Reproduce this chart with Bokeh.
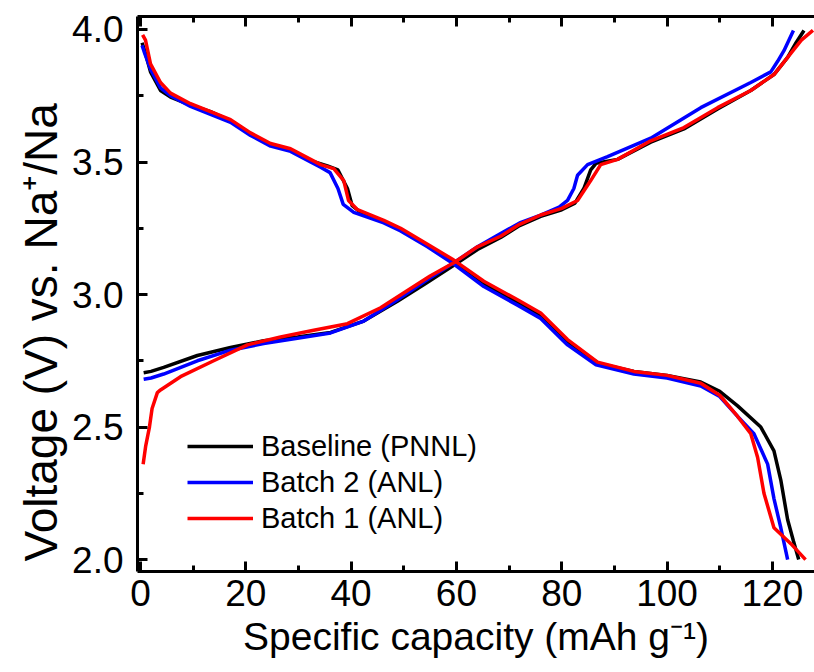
from bokeh.plotting import figure
from bokeh.models import Range1d, LinearAxis, Legend, LegendItem, SingleIntervalTicker, NumeralTickFormatter
from bokeh.embed import file_html
from bokeh.resources import INLINE

# ---- data ----
# Baseline (PNNL)
base_dis_x = [0.3, 0.8, 1.9, 3.8, 5.7, 9.5, 13.3, 17.1, 20.9, 24.7, 28.5, 32.3, 35.5, 37.5, 39.3, 40.2, 41.5,
              46.2, 49.4, 54.5, 59.5, 65.2, 71.6, 76.0, 81.1, 87.0, 93.7, 100.0, 106.4, 110.0, 113.4, 117.8,
              120.3, 121.6, 122.9, 124.0, 125.0]
base_dis_v = [3.95, 3.92, 3.84, 3.77, 3.745, 3.715, 3.69, 3.655, 3.605, 3.565, 3.545, 3.505, 3.485, 3.47, 3.40,
              3.335, 3.315, 3.275, 3.245, 3.185, 3.125, 3.04, 2.97, 2.92, 2.82, 2.74, 2.71, 2.695, 2.67, 2.635,
              2.58, 2.50, 2.41, 2.30, 2.15, 2.07, 2.00]
base_chg_x = [0.6, 2.0, 4.4, 10.8, 17.1, 23.4, 29.8, 36.1, 42.4, 48.8, 54.0, 59.5, 64.0, 68.4, 72.0, 76.0, 80.0,
              82.5, 84.2, 85.5, 86.5, 90.6, 96.9, 103.2, 109.6, 115.9, 120.3, 122.9, 124.5, 126.0]
base_chg_v = [2.705, 2.71, 2.725, 2.77, 2.80, 2.826, 2.84, 2.857, 2.90, 2.975, 3.04, 3.11, 3.17, 3.215, 3.26,
              3.295, 3.32, 3.345, 3.40, 3.47, 3.495, 3.51, 3.575, 3.625, 3.70, 3.77, 3.83, 3.895, 3.95, 3.996]

# Batch 2 (ANL)
b2_dis_x = [0.3, 0.8, 1.9, 3.8, 5.7, 9.5, 13.3, 17.1, 20.9, 24.7, 28.5, 32.3, 34.2, 36.0, 37.5, 38.5, 40.5,
            46.2, 49.4, 54.5, 59.5, 65.2, 71.6, 76.0, 81.1, 86.5, 93.7, 100.0, 106.4, 110.0, 113.4, 116.5,
            119.1, 120.3, 121.6, 122.9]
b2_dis_v = [3.94, 3.91, 3.85, 3.78, 3.75, 3.71, 3.68, 3.65, 3.60, 3.56, 3.54, 3.50, 3.48, 3.46, 3.40, 3.34,
            3.31, 3.27, 3.24, 3.18, 3.115, 3.03, 2.96, 2.91, 2.81, 2.735, 2.70, 2.685, 2.655, 2.615, 2.54,
            2.475, 2.36, 2.23, 2.12, 2.00]
b2_chg_x = [0.6, 2.0, 4.4, 10.8, 17.1, 23.4, 29.8, 36.1, 42.4, 48.8, 54.0, 59.5, 64.0, 68.4, 72.0, 76.0, 79.5,
            81.1, 82.3, 83.0, 84.9, 88.7, 96.9, 106.4, 115.9, 119.7, 121.0, 122.2, 124.0]
b2_chg_v = [2.68, 2.685, 2.70, 2.75, 2.79, 2.815, 2.835, 2.855, 2.90, 2.98, 3.05, 3.12, 3.18, 3.23, 3.27, 3.30,
            3.33, 3.355, 3.40, 3.45, 3.49, 3.52, 3.59, 3.705, 3.80, 3.84, 3.88, 3.92, 3.996]

# Batch 1 (ANL)
b1_dis_x = [0.4, 0.95, 1.9, 3.8, 5.7, 9.5, 13.3, 17.1, 20.9, 24.7, 28.5, 32.3, 34.2, 36.7, 38.6, 39.5, 41.2,
            46.2, 49.4, 54.5, 59.5, 65.2, 71.6, 76.0, 81.1, 86.8, 93.7, 100.0, 106.4, 110.0, 113.4, 115.9,
            117.2, 118.4, 120.3, 123.5, 126.3]
b1_dis_v = [3.98, 3.96, 3.87, 3.80, 3.76, 3.72, 3.69, 3.66, 3.61, 3.57, 3.55, 3.51, 3.49, 3.475, 3.43, 3.355,
            3.32, 3.28, 3.25, 3.19, 3.13, 3.05, 2.98, 2.93, 2.83, 2.745, 2.71, 2.695, 2.665, 2.62, 2.54,
            2.475, 2.385, 2.25, 2.12, 2.06, 2.00]
b1_chg_x = [0.5, 1.0, 1.7, 2.2, 3.2, 3.8, 7.6, 13.9, 20.3, 26.6, 32.9, 39.3, 45.6, 50.7, 55.0, 59.5, 64.0,
            68.4, 72.0, 76.0, 80.0, 83.0, 84.5, 85.5, 87.4, 90.6, 96.9, 103.2, 109.6, 115.9, 120.3, 123.5,
            125.5, 127.7]
b1_chg_v = [2.36, 2.43, 2.50, 2.57, 2.63, 2.64, 2.69, 2.75, 2.81, 2.84, 2.865, 2.89, 2.95, 3.015, 3.07, 3.12,
            3.18, 3.22, 3.265, 3.30, 3.325, 3.355, 3.40, 3.43, 3.49, 3.51, 3.58, 3.63, 3.705, 3.77, 3.83,
            3.91, 3.96, 3.997]

series_names = ["Baseline (PNNL)", "Batch 2 (ANL)", "Batch 1 (ANL)"]
series_colors = ["#000000", "#0000ff", "#ff0000"]

FONT = "Liberation Sans"

p = figure(width=814, height=672, output_backend="svg", toolbar_location=None,
           x_range=Range1d(-0.57, 128.0), y_range=Range1d(1.955, 4.049),
           min_border_left=137, min_border_right=0, min_border_top=16, min_border_bottom=101)
p.outline_line_color = None
p.xgrid.visible = False
p.ygrid.visible = False
p.background_fill_color = "white"
p.border_fill_color = "white"

data = [
    (base_dis_x, base_dis_v, base_chg_x, base_chg_v),
    (b2_dis_x, b2_dis_v, b2_chg_x, b2_chg_v),
    (b1_dis_x, b1_dis_v, b1_chg_x, b1_chg_v),
]
items = []
for (dx, dv, cx, cv), name, col in zip(data, series_names, series_colors):
    r1 = p.line(dx, dv, line_color=col, line_width=3.5)
    r2 = p.line(cx, cv, line_color=col, line_width=3.5)
    items.append(LegendItem(label=name, renderers=[r1]))

# axes styling
for ax in (p.xaxis[0], p.yaxis[0]):
    ax.axis_line_width = 3
    ax.axis_line_color = "black"
    ax.major_tick_in = 10
    ax.major_tick_out = 0
    ax.minor_tick_in = 6
    ax.minor_tick_out = 0
    ax.major_tick_line_width = 3
    ax.minor_tick_line_width = 3
    ax.major_label_text_font = FONT
    ax.major_label_text_font_size = "37px"
    ax.major_label_text_color = "black"
    ax.axis_label_text_font = FONT
    ax.axis_label_text_font_style = "normal"
    ax.axis_label_text_color = "black"

p.xaxis[0].axis_label_text_font_size = "39px"
p.yaxis[0].axis_label_text_font_size = "46px"
p.xaxis[0].ticker = SingleIntervalTicker(interval=20, num_minor_ticks=2)
p.yaxis[0].ticker = SingleIntervalTicker(interval=0.5, num_minor_ticks=2)
p.yaxis[0].formatter = NumeralTickFormatter(format="0.0")
p.xaxis[0].axis_label = "Specific capacity (mAh g\u207b\u00b9)"
# trailing no-break spaces shift the visible label downwards, as in the reference
p.yaxis[0].axis_label = "Voltage (V) vs. Na\u207a/Na" + "\u00a0" * 6
p.xaxis[0].major_label_standoff = 8
p.yaxis[0].major_label_standoff = 14
p.xaxis[0].axis_label_standoff = 6
p.yaxis[0].axis_label_standoff = 2

top = LinearAxis(ticker=SingleIntervalTicker(interval=20, num_minor_ticks=2),
                 axis_line_width=3, major_tick_in=10, major_tick_out=0, minor_tick_in=6, minor_tick_out=0,
                 major_tick_line_width=3, minor_tick_line_width=3,
                 major_label_text_color=None, major_label_text_font_size="1px", major_label_standoff=0)
p.add_layout(top, "above")

legend = Legend(items=items, location=(50, 35), background_fill_alpha=0, border_line_color=None,
                glyph_width=66, glyph_height=36, label_height=36, spacing=0, label_standoff=8,
                padding=0, margin=0, label_text_font=FONT, label_text_font_size="29px",
                label_text_color="black")
p.add_layout(legend, "center")

open("out.html", "w").write(file_html(p, INLINE))
